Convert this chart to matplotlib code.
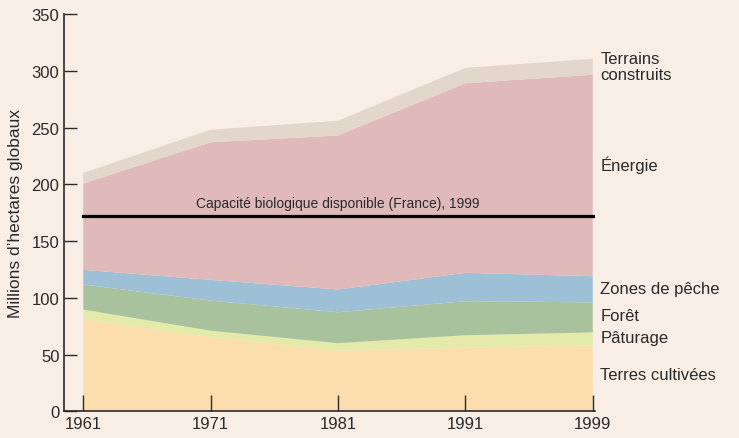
import matplotlib.pyplot as plt
import numpy as np

plt.rcParams['font.family'] = ['Liberation Sans', 'DejaVu Sans']

# ---------------- data (millions of global hectares) ----------------
years = ["1961", "1971", "1981", "1991", "1999"]
terres_cultivees = [81, 65, 53.5, 56, 58]
paturage = [8.6, 6, 6.5, 11, 11.5]
foret = [22.1, 26.5, 27.3, 30, 26.5]
zones_peche = [12.9, 18.3, 20, 25, 23]
energie = [76.1, 121.2, 135.7, 167, 177.5]
terrains_construits = [9.3, 11, 13, 13.5, 14]
capacite = 172

labels = ["Terres cultivées", "Pâturage", "Forêt", "Zones de pêche", "Énergie",
          "Terrains\nconstruits"]
label_y = [32, 65, 84, 108, 218, 304]
colors = ["#fcdeae", "#e4ebaa", "#a8c29d", "#9dc0d6", "#e0b9bb", "#e3d6ca"]

bg = "#f8eee6"
dark = "#2a2a2a"

fig = plt.figure(figsize=(7.39, 4.39), dpi=100, facecolor=bg)
ax = fig.add_axes([0.087, 0.0608, 0.7185, 0.905], facecolor=bg)

x = np.arange(len(years))
ax.stackplot(x, terres_cultivees, paturage, foret, zones_peche, energie,
             terrains_construits, colors=colors, linewidth=0)

# capacity line
ax.plot([0, 4.02], [capacite, capacite], color="black", lw=2.3, zorder=3)
ax.text(2, capacite + 5, "Capacité biologique disponible (France), 1999",
        ha="center", va="bottom", fontsize=10, color=dark)

# right-hand labels
for lab, yy in zip(labels, label_y):
    ax.text(4.06, yy, lab, ha="left", va="center", fontsize=12, color=dark,
            linespacing=1.1, clip_on=False)

ax.set_xlim(-0.149, 4.02)
ax.set_ylim(0, 350)
ax.set_xticks(x)
ax.set_xticklabels(years)
ax.set_yticks(np.arange(0, 351, 50))
ax.tick_params(axis="y", direction="in", length=9.5, width=1, color=dark,
               labelsize=12, labelcolor=dark, pad=3.5)
ax.tick_params(axis="x", direction="in", length=11.5, width=1, color=dark,
               labelsize=12, labelcolor=dark, pad=3.5)
ax.set_ylabel("Millions d’hectares globaux", fontsize=12.5, color=dark, labelpad=6)

for s in ["top", "right"]:
    ax.spines[s].set_visible(False)
ax.spines["left"].set_color(dark)
ax.spines["bottom"].set_color(dark)
ax.spines["left"].set_linewidth(1.2)
ax.spines["bottom"].set_linewidth(1.2)
ax.set_axisbelow(False)

fig.savefig("out.png", dpi=100, facecolor=bg)
